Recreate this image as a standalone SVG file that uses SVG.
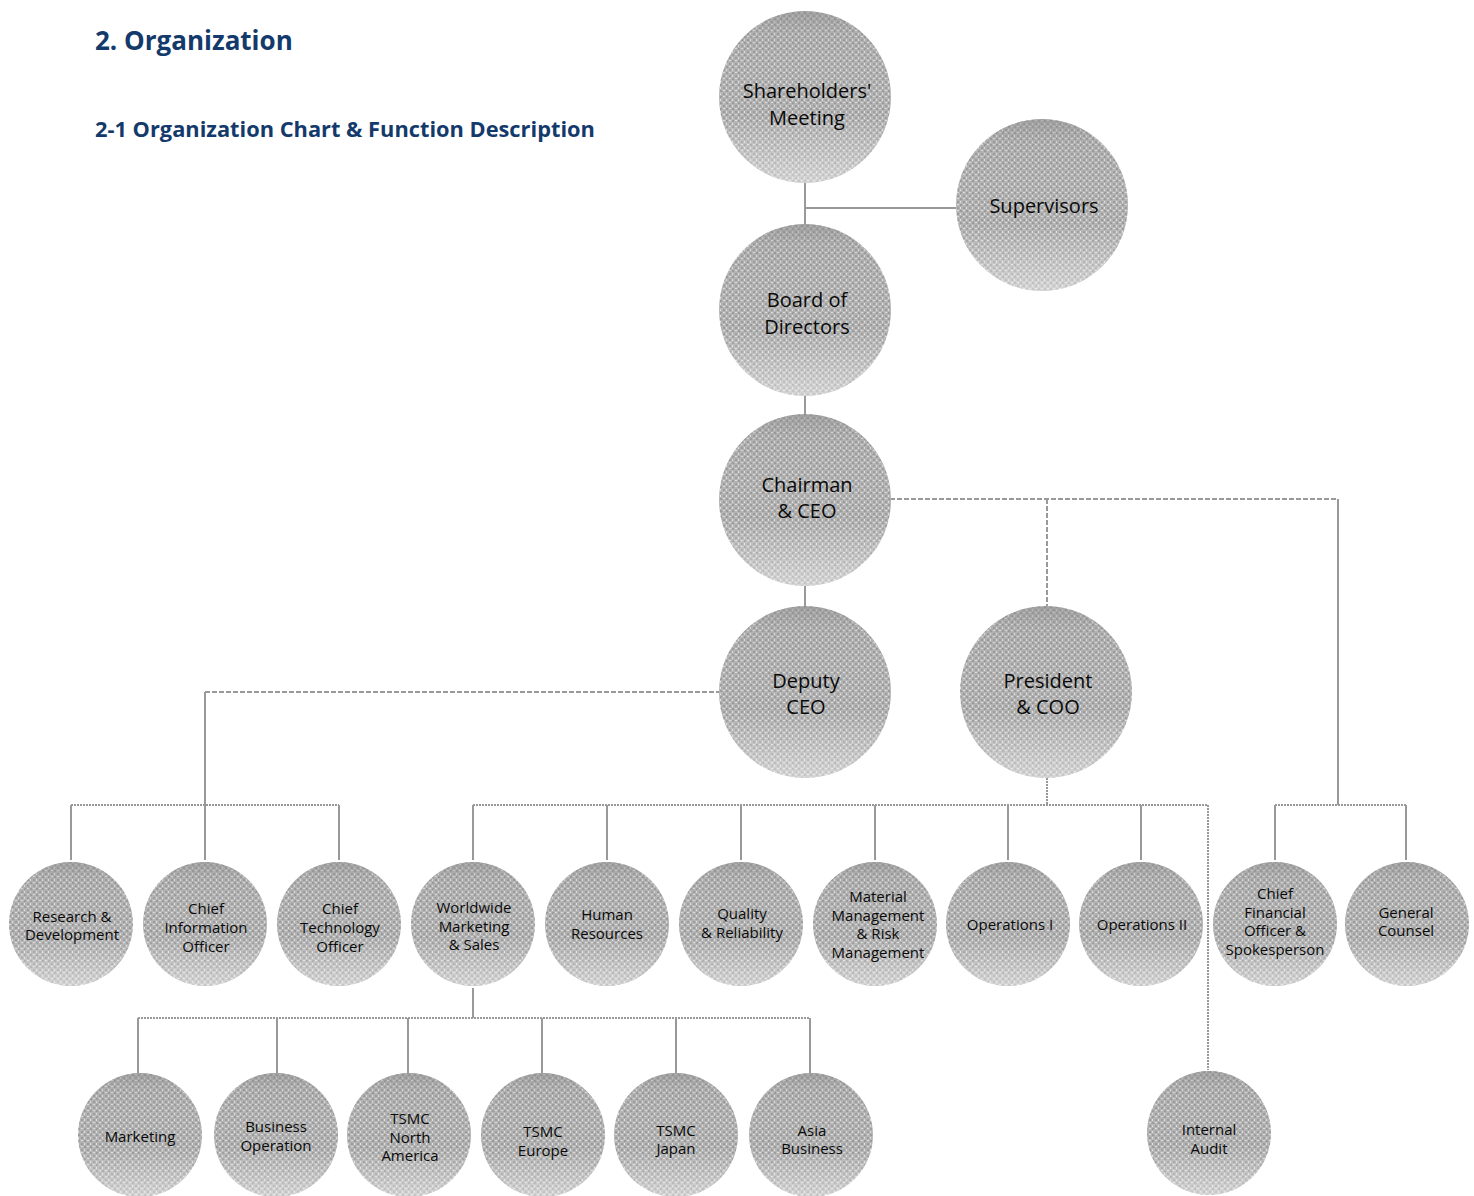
<svg xmlns="http://www.w3.org/2000/svg" width="1474" height="1196" viewBox="0 0 1474 1196">
<defs>
<pattern id="dither" width="6" height="6" patternUnits="userSpaceOnUse">
<rect width="6" height="6" fill="#b3b3b3"/>
<rect x="0" y="0" width="2" height="2" fill="#9a9a9a"/>
<rect x="3" y="3" width="2" height="2" fill="#9a9a9a"/>
<rect x="3" y="0" width="2" height="1" fill="#dcdcdc"/>
<rect x="0" y="3" width="1" height="2" fill="#dcdcdc"/>
</pattern>
<linearGradient id="shade" x1="0" y1="0" x2="0" y2="1">
<stop offset="0" stop-color="#8f8f8f" stop-opacity="0.55"/>
<stop offset="0.12" stop-color="#8f8f8f" stop-opacity="0.1"/>
<stop offset="0.6" stop-color="#ffffff" stop-opacity="0"/>
<stop offset="1" stop-color="#ffffff" stop-opacity="0.45"/>
</linearGradient>
</defs>
<style>
.ball{fill:url(#dither);}
.sh{fill:url(#shade);}
.lbl{font-family:"Open Sans","Noto Sans","Liberation Sans",sans-serif;fill:#0a0a0a;text-anchor:middle;}
.big{font-size:20px;}
.sm{font-size:15px;}
.ln{stroke:#999;stroke-width:2;fill:none;}
.dash{stroke:#999;stroke-width:2;fill:none;stroke-dasharray:5,2;}
.fine{stroke:#999;stroke-width:2;fill:none;stroke-dasharray:2,1;}
.title{font-family:"Open Sans","Noto Sans","Liberation Sans",sans-serif;font-weight:bold;fill:#133a6b;}
</style>
<rect width="1474" height="1196" fill="#fff"/>
<text class="title" x="95" y="50" font-size="26">2. Organization</text>
<text class="title" x="95" y="137" font-size="21.8">2-1 Organization Chart &amp; Function Description</text>

<g id="connectors">
<path class="ln" d="M805 183V225M805 208H956M805 395V415M805 585V607"/>
<path class="dash" d="M890 499H1338M1047 499V607"/>
<path class="ln" d="M1338 499V805"/>
<path class="fine" d="M1275 805H1406"/>
<path class="ln" d="M1275 805V860M1406 805V860"/>
<path class="dash" d="M205 692H720"/>
<path class="ln" d="M205 692V860"/>
<path class="fine" d="M71 805H339"/>
<path class="ln" d="M71 805V860M339 805V860"/>
<path class="fine" d="M1047 778V805M473 805H1208M1208 805V1070"/>
<path class="ln" d="M473 805V860M607 805V860M741 805V860M875 805V860M1008 805V860M1141 805V860"/>
<path class="ln" d="M473 988V1018"/>
<path class="fine" d="M138 1018H810"/>
<path class="ln" d="M138 1018V1073M277 1018V1073M408 1018V1073M542 1018V1073M676 1018V1073M810 1018V1073"/>
</g>

<g id="n-shareholders"><circle class="ball" cx="805" cy="97" r="86"/><circle class="sh" cx="805" cy="97" r="86"/><text class="lbl big" x="807" y="98">Shareholders'</text><text class="lbl big" x="807" y="125">Meeting</text></g>
<g id="n-supervisors"><circle class="ball" cx="1042" cy="205" r="86"/><circle class="sh" cx="1042" cy="205" r="86"/><text class="lbl big" x="1044" y="213">Supervisors</text></g>
<g id="n-board"><circle class="ball" cx="805" cy="310" r="86"/><circle class="sh" cx="805" cy="310" r="86"/><text class="lbl big" x="807" y="307">Board of</text><text class="lbl big" x="807" y="334">Directors</text></g>
<g id="n-chairman"><circle class="ball" cx="805" cy="500" r="86"/><circle class="sh" cx="805" cy="500" r="86"/><text class="lbl big" x="807" y="492">Chairman</text><text class="lbl big" x="807" y="518">&amp; CEO</text></g>
<g id="n-deputy"><circle class="ball" cx="805" cy="692" r="86"/><circle class="sh" cx="805" cy="692" r="86"/><text class="lbl big" x="806" y="688">Deputy</text><text class="lbl big" x="806" y="714">CEO</text></g>
<g id="n-president"><circle class="ball" cx="1046" cy="692" r="86"/><circle class="sh" cx="1046" cy="692" r="86"/><text class="lbl big" x="1048" y="688">President</text><text class="lbl big" x="1048" y="714">&amp; COO</text></g>

<g id="n-rd"><circle class="ball" cx="71" cy="924" r="62"/><circle class="sh" cx="71" cy="924" r="62"/><text class="lbl sm" x="72" y="922">Research &amp;</text><text class="lbl sm" x="72" y="940">Development</text></g>
<g id="n-cio"><circle class="ball" cx="205" cy="924" r="62"/><circle class="sh" cx="205" cy="924" r="62"/><text class="lbl sm" x="206" y="914">Chief</text><text class="lbl sm" x="206" y="933">Information</text><text class="lbl sm" x="206" y="952">Officer</text></g>
<g id="n-cto"><circle class="ball" cx="339" cy="924" r="62"/><circle class="sh" cx="339" cy="924" r="62"/><text class="lbl sm" x="340" y="914">Chief</text><text class="lbl sm" x="340" y="933">Technology</text><text class="lbl sm" x="340" y="952">Officer</text></g>
<g id="n-wms"><circle class="ball" cx="473" cy="924" r="62"/><circle class="sh" cx="473" cy="924" r="62"/><text class="lbl sm" x="474" y="913">Worldwide</text><text class="lbl sm" x="474" y="932">Marketing</text><text class="lbl sm" x="474" y="950">&amp; Sales</text></g>
<g id="n-hr"><circle class="ball" cx="607" cy="924" r="62"/><circle class="sh" cx="607" cy="924" r="62"/><text class="lbl sm" x="607" y="920">Human</text><text class="lbl sm" x="607" y="939">Resources</text></g>
<g id="n-qr"><circle class="ball" cx="741" cy="924" r="62"/><circle class="sh" cx="741" cy="924" r="62"/><text class="lbl sm" x="742" y="919">Quality</text><text class="lbl sm" x="742" y="938">&amp; Reliability</text></g>
<g id="n-mm"><circle class="ball" cx="875" cy="924" r="62"/><circle class="sh" cx="875" cy="924" r="62"/><text class="lbl sm" x="878" y="902">Material</text><text class="lbl sm" x="878" y="921">Management</text><text class="lbl sm" x="878" y="939">&amp; Risk</text><text class="lbl sm" x="878" y="958">Management</text></g>
<g id="n-op1"><circle class="ball" cx="1008" cy="924" r="62"/><circle class="sh" cx="1008" cy="924" r="62"/><text class="lbl sm" x="1010" y="930">Operations I</text></g>
<g id="n-op2"><circle class="ball" cx="1141" cy="924" r="62"/><circle class="sh" cx="1141" cy="924" r="62"/><text class="lbl sm" x="1142" y="930">Operations II</text></g>
<g id="n-cfo"><circle class="ball" cx="1275" cy="924" r="62"/><circle class="sh" cx="1275" cy="924" r="62"/><text class="lbl sm" x="1275" y="899">Chief</text><text class="lbl sm" x="1275" y="918">Financial</text><text class="lbl sm" x="1275" y="936">Officer &amp;</text><text class="lbl sm" x="1275" y="955">Spokesperson</text></g>
<g id="n-gc"><circle class="ball" cx="1407" cy="924" r="62"/><circle class="sh" cx="1407" cy="924" r="62"/><text class="lbl sm" x="1406" y="918">General</text><text class="lbl sm" x="1406" y="936">Counsel</text></g>

<g id="n-mkt"><circle class="ball" cx="140" cy="1135" r="62"/><circle class="sh" cx="140" cy="1135" r="62"/><text class="lbl sm" x="140" y="1142">Marketing</text></g>
<g id="n-bo"><circle class="ball" cx="276" cy="1135" r="62"/><circle class="sh" cx="276" cy="1135" r="62"/><text class="lbl sm" x="276" y="1132">Business</text><text class="lbl sm" x="276" y="1151">Operation</text></g>
<g id="n-na"><circle class="ball" cx="409" cy="1135" r="62"/><circle class="sh" cx="409" cy="1135" r="62"/><text class="lbl sm" x="410" y="1124">TSMC</text><text class="lbl sm" x="410" y="1143">North</text><text class="lbl sm" x="410" y="1161">America</text></g>
<g id="n-eu"><circle class="ball" cx="543" cy="1135" r="62"/><circle class="sh" cx="543" cy="1135" r="62"/><text class="lbl sm" x="543" y="1137">TSMC</text><text class="lbl sm" x="543" y="1156">Europe</text></g>
<g id="n-jp"><circle class="ball" cx="676" cy="1135" r="62"/><circle class="sh" cx="676" cy="1135" r="62"/><text class="lbl sm" x="676" y="1136">TSMC</text><text class="lbl sm" x="676" y="1154">Japan</text></g>
<g id="n-asia"><circle class="ball" cx="811" cy="1135" r="62"/><circle class="sh" cx="811" cy="1135" r="62"/><text class="lbl sm" x="812" y="1136">Asia</text><text class="lbl sm" x="812" y="1154">Business</text></g>
<g id="n-audit"><circle class="ball" cx="1209" cy="1133" r="62"/><circle class="sh" cx="1209" cy="1133" r="62"/><text class="lbl sm" x="1209" y="1135">Internal</text><text class="lbl sm" x="1209" y="1154">Audit</text></g>
</svg>
